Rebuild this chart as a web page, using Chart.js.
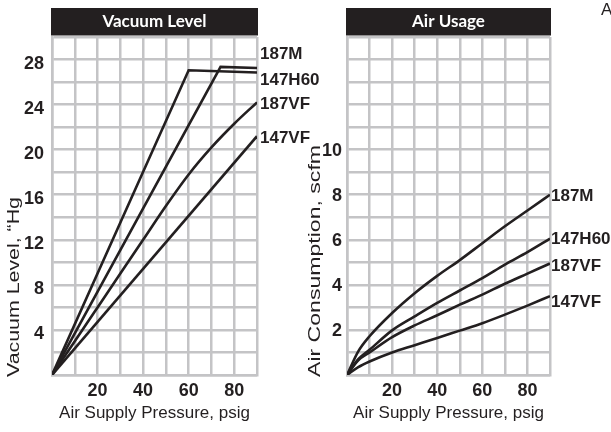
<!DOCTYPE html>
<html>
<head>
<meta charset="utf-8">
<script src="https://cdn.jsdelivr.net/npm/chart.js@4.4.1/dist/chart.umd.min.js"></script>
<style>
  html, body { margin: 0; padding: 0; background: #fff; }
  #wrap { position: relative; width: 611px; height: 432px; overflow: hidden; }
  canvas { position: absolute; top: 0; }
  #vacuumChart { left: 0; }
  #airChart { left: 300px; }
</style>
</head>
<body>
<div id="wrap">
  <canvas id="vacuumChart" width="330" height="432"></canvas>
  <canvas id="airChart" width="311" height="432"></canvas>
</div>
<script>
// ---- Data ----
const seriesNames = ["187M", "147H60", "187VF", "147VF"];

// Vacuum level ("Hg) vs air supply pressure (psig)
const vac187M_psi = [0, 74, 90];
const vac187M = [0, 27.35, 27.25];
const vac147H60_psi = [0, 60, 90];
const vac147H60 = [0, 27.05, 26.85];
const vac187VF_psi = [0, 10, 20, 30, 40, 50, 60, 70, 80, 90];
const vac187VF = [0, 3.0, 6.0, 9.0, 12.0, 15.0, 17.8, 20.2, 22.3, 24.2];
const vac147VF_psi = [0, 90];
const vac147VF = [0, 21.2];

// Air consumption (scfm) vs air supply pressure (psig)
const airPsi = [0, 5, 10, 20, 30, 40, 50, 60, 70, 80, 90];
const air187M = [0, 1.05, 1.72, 2.75, 3.63, 4.4, 5.1, 5.85, 6.6, 7.3, 8.0];
const air147H60 = [0, 0.7, 1.12, 1.98, 2.6, 3.2, 3.75, 4.3, 4.9, 5.45, 6.05];
const air187VF = [0, 0.65, 1.0, 1.68, 2.2, 2.65, 3.12, 3.57, 4.05, 4.5, 4.95];
const air147VF = [0, 0.35, 0.6, 1.0, 1.32, 1.64, 1.97, 2.3, 2.68, 3.08, 3.5];

const vacuumTickLabels = [4, 8, 12, 16, 20, 24, 28];
const airTickLabels = [2, 4, 6, 8, 10];
const pressureTickLabels = [20, 40, 60, 80];

// ---- Styling ----
const ink = "#231f20";
const gridGrey = "#c4c4c6";
const sans = "'Liberation Sans', Arial, sans-serif";

const toPoints = (xs, ys) => xs.map((x, i) => ({ x, y: ys[i] }));

const makeLine = (label, xs, ys, labelDy, smooth) => ({
  label,
  data: toPoints(xs, ys),
  borderColor: ink,
  borderWidth: 2.6,
  pointRadius: 0,
  fill: false,
  tension: 0,
  cubicInterpolationMode: smooth ? "monotone" : "default",
  labelDy
});

// title bar, rotated y title and end-of-line labels
const decor = {
  id: "decor",
  afterDraw(chart, args, opts) {
    const { ctx, chartArea } = chart;
    ctx.save();

    // black title bar
    ctx.fillStyle = ink;
    ctx.fillRect(chartArea.left - 1, 8, chartArea.right - chartArea.left + 2, 27.5);
    ctx.fillStyle = "#fff";
    ctx.font = "bold 17px Lato, 'Open Sans', sans-serif";
    ctx.textAlign = "center";
    ctx.textBaseline = "middle";
    ctx.fillText(opts.title, (chartArea.left + chartArea.right) / 2, 22);

    // y axis title, stretched along its length like the reference
    ctx.fillStyle = ink;
    ctx.font = "16px " + sans;
    ctx.translate(opts.yTitleX, opts.yTitleY);
    ctx.rotate(-Math.PI / 2);
    const w = ctx.measureText(opts.yTitle).width;
    ctx.scale(opts.yTitleLen / w, 1);
    ctx.fillText(opts.yTitle, 0, 0);
    ctx.setTransform(1, 0, 0, 1, 0, 0);

    // series names at line ends
    ctx.font = "bold 17px " + sans;
    ctx.textAlign = "left";
    chart.data.datasets.forEach((ds, i) => {
      const pts = chart.getDatasetMeta(i).data;
      const last = pts[pts.length - 1];
      ctx.fillText(ds.label, chartArea.right + opts.labelGap, last.y + ds.labelDy);
    });

    if (opts.corner) {
      ctx.font = "17px " + sans;
      ctx.textBaseline = "alphabetic";
      ctx.fillText(opts.corner, 301, 15);
    }
    ctx.restore();
  }
};

const xScale = {
  type: "linear",
  min: 0,
  max: 90,
  border: { color: gridGrey, width: 2.5 },
  grid: { color: gridGrey, lineWidth: 2.5, drawTicks: false },
  ticks: {
    stepSize: 10,
    autoSkip: false,
    maxRotation: 0,
    padding: 5,
    color: ink,
    font: { family: sans, size: 18, weight: "bold" },
    callback: v => pressureTickLabels.includes(v) ? v : ""
  },
  title: {
    display: true,
    text: "Air Supply Pressure, psig",
    color: ink,
    font: { family: sans, size: 17, lineHeight: 1.2 },
    padding: { top: 0, bottom: 8 }
  },
  afterFit: s => { s.height = 57; }
};

const yScale = (max, step, shown, pad, offset, width) => ({
  type: "linear",
  min: 0,
  max,
  border: { color: gridGrey, width: 2.5 },
  grid: { color: gridGrey, lineWidth: 2.5, drawTicks: false },
  ticks: {
    stepSize: step,
    autoSkip: false,
    padding: pad,
    labelOffset: offset,
    color: ink,
    font: { family: sans, size: 18, weight: "bold" },
    callback: v => shown.includes(v) ? v : ""
  },
  afterFit: s => { s.width = width; }
});

new Chart(document.getElementById("vacuumChart"), {
  type: "line",
  data: {
    datasets: [
      makeLine(seriesNames[0], vac187M_psi, vac187M, -14, false),
      makeLine(seriesNames[1], vac147H60_psi, vac147H60, 8, false),
      makeLine(seriesNames[2], vac187VF_psi, vac187VF, 2, true),
      makeLine(seriesNames[3], vac147VF_psi, vac147VF, 2, false)
    ]
  },
  options: {
    responsive: false,
    animation: false,
    layout: { padding: { top: 37, right: 73, left: 0, bottom: 0 } },
    plugins: {
      legend: { display: false },
      tooltip: { enabled: false },
      decor: {
        title: "Vacuum Level",
        yTitle: "Vacuum Level, \u201CHg",
        yTitleX: 15,
        yTitleY: 287,
        yTitleLen: 180,
        labelGap: 3
      }
    },
    scales: {
      x: xScale,
      y: yScale(30, 2, vacuumTickLabels, 8, 4, 52)
    }
  },
  plugins: [decor]
});

new Chart(document.getElementById("airChart"), {
  type: "line",
  data: {
    datasets: [
      makeLine(seriesNames[0], airPsi, air187M, 2, true),
      makeLine(seriesNames[1], airPsi, air147H60, 1, true),
      makeLine(seriesNames[2], airPsi, air187VF, 3, true),
      makeLine(seriesNames[3], airPsi, air147VF, 6, true)
    ]
  },
  options: {
    responsive: false,
    animation: false,
    layout: { padding: { top: 37, right: 61, left: 0, bottom: 0 } },
    plugins: {
      legend: { display: false },
      tooltip: { enabled: false },
      decor: {
        title: "Air Usage",
        yTitle: "Air Consumption, scfm",
        yTitleX: 16,
        yTitleY: 261,
        yTitleLen: 232,
        labelGap: 1,
        corner: "A"
      }
    },
    scales: {
      x: xScale,
      y: yScale(15, 1, airTickLabels, 5, 1, 47)
    }
  },
  plugins: [decor]
});
</script>
</body>
</html>
